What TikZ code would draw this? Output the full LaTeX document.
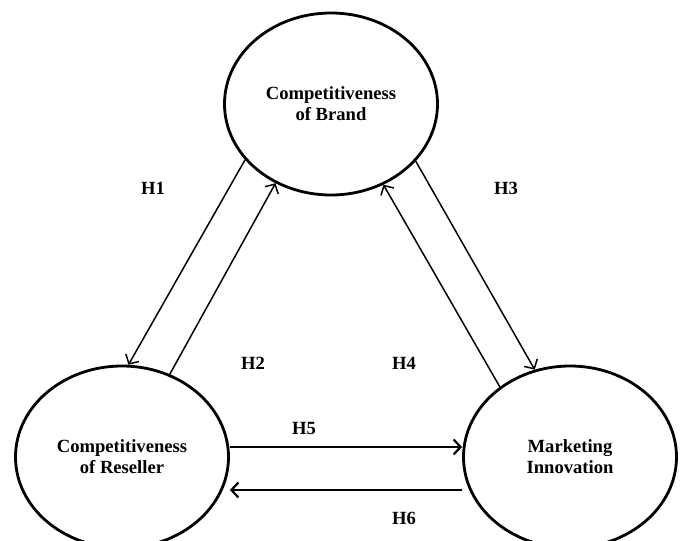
\documentclass[tikz,border=0pt]{standalone}
\usepackage{fontspec}
\setmainfont{Liberation Serif}
\usepackage{tikz}
\usetikzlibrary{shapes.geometric}
\usetikzlibrary{arrows.meta}

\begin{document}
\begin{tikzpicture}[x=1pt, y=-1pt, >={Straight Barb[length=7pt,width=15pt]}, font=\fontsize{18.6}{21}\selectfont\bfseries, construct/.style={ellipse, draw, line width=2.8pt, minimum width=213pt, minimum height=182pt, align=center, inner sep=0pt}, thin arrow/.style={->, line width=1.5pt}, thick arrow/.style={->, line width=2.2pt}]
    \useasboundingbox (0,0) rectangle (681,541);

    \node[construct] (brand)    at (331,104) {Competitiveness\\of Brand};
    \node[construct] (reseller) at (122,457) {Competitiveness\\of Reseller};
    \node[construct] (market)   at (570,457) {Marketing\\Innovation};

    % hypotheses between brand and the others
    \draw[thin arrow] (brand.213)    -- (reseller.86);
    \draw[thin arrow] (reseller.60)  -- (brand.235);
    \draw[thin arrow] (brand.326)    -- (market.112);
    \draw[thin arrow] (market.135)   -- (brand.303);

    % hypotheses between reseller and innovation
    \draw[thick arrow] ([yshift=10pt]reseller.east) -- ([yshift=10pt]reseller.east -| market.west);
    \draw[thick arrow] ([yshift=-33pt]market.west) -- ([yshift=-33pt]market.west -| reseller.east);

    \node (h1) at (153,188) {H1};
    \node (h2) at (253,363) {H2};
    \node (h3) at (506,188) {H3};
    \node (h4) at (404,363) {H4};
    \node (h5) at (304,428) {H5};
    \node (h6) at (404,518) {H6};
\end{tikzpicture}
\end{document}
